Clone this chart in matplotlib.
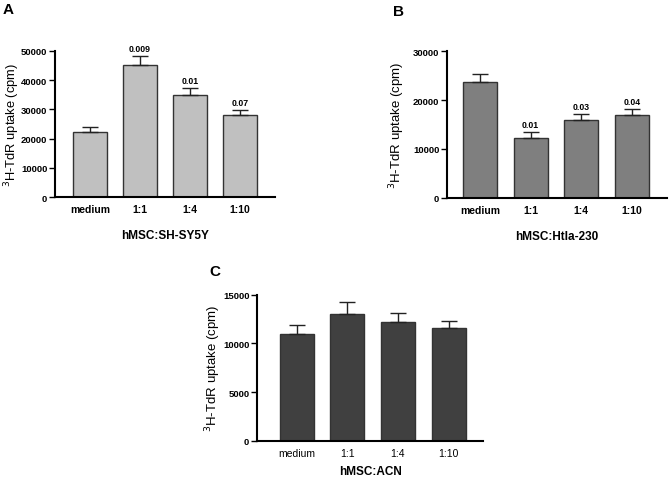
import matplotlib
matplotlib.use("Agg")
import matplotlib.pyplot as plt
import numpy as np

plt.rcParams['font.family'] = ['Liberation Sans', 'DejaVu Sans']

categories = ["medium", "1:1", "1:4", "1:10"]

a_vals = [22400, 45300, 34950, 28050]
a_err = [1450, 2900, 2300, 1650]
a_p = ["", "0.009", "0.01", "0.07"]

b_vals = [23650, 12150, 15970, 16990]
b_err = [1750, 1230, 1160, 1110]
b_p = ["", "0.01", "0.03", "0.04"]

c_vals = [10990, 13020, 12230, 11550]
c_err = [930, 1200, 890, 750]

fig = plt.figure(figsize=(6.7, 4.85), dpi=100)

def panel(rect, vals, errs, color, yticks, xlim, xlabel, letter, letter_xy,
          ylabel_x, ylabel_size, pvals=None, xlabelpad=10, catweight='bold'):
    ax = fig.add_axes(rect)
    x = np.arange(len(categories))
    ax.bar(x, vals, width=0.67, color=color, edgecolor='#333333', linewidth=1.0, zorder=2)
    ax.errorbar(x, vals, yerr=[np.zeros(len(vals)), errs], fmt='none',
                ecolor='#222222', elinewidth=1.0, capsize=6, capthick=1.0, zorder=3)
    if pvals:
        for xi, v, e, p in zip(x, vals, errs, pvals):
            if p:
                ax.annotate(p, (xi, v + e), xytext=(0, 2.5), textcoords='offset points',
                            ha='center', va='bottom', fontsize=6.3, fontweight='bold')
    ax.set_xlim(*xlim)
    ax.set_ylim(0, yticks[-1])
    ax.set_yticks(yticks)
    ax.set_yticklabels([str(t) for t in yticks], fontsize=6.8, fontweight='bold')
    ax.set_xticks(x)
    ax.set_xticklabels(categories, fontsize=7.5, fontweight=catweight)
    ax.tick_params(axis='x', length=0, pad=5)
    ax.tick_params(axis='y', length=4, width=1.0, pad=1.5)
    for s in ['top', 'right']:
        ax.spines[s].set_visible(False)
    for s in ['left', 'bottom']:
        ax.spines[s].set_linewidth(1.5)
        ax.spines[s].set_color('black')
    ax.set_ylabel("$^{3}$H-TdR uptake (cpm)", fontsize=ylabel_size)
    ax.yaxis.set_label_coords(ylabel_x, 0.5)
    ax.set_xlabel(xlabel, fontsize=8.5, fontweight='bold', labelpad=xlabelpad)
    fig.text(letter_xy[0] / 670, 1 - letter_xy[1] / 485, letter, fontsize=11,
             fontweight='bold', ha='center', va='center')
    return ax

panel([55 / 670, 1 - 198 / 485, 220 / 670, 146 / 485], a_vals, a_err, '#c0c0c0',
      [0, 10000, 20000, 30000, 40000, 50000], (-0.7, 3.7), "hMSC:SH-SY5Y",
      "A", (8, 10), ylabel_x=(22 - 55) / 220, ylabel_size=9.3, pvals=a_p, xlabelpad=11)

panel([447 / 670, 1 - 198.6 / 485, 220 / 670, 146.3 / 485], b_vals, b_err, '#7f7f7f',
      [0, 10000, 20000, 30000], (-0.65, 3.69), "hMSC:Htla-230",
      "B", (398, 12), ylabel_x=(407 - 447) / 220, ylabel_size=9.5, pvals=b_p, xlabelpad=11)

panel([257 / 670, 1 - 441.7 / 485, 226 / 670, 146 / 485], c_vals, c_err, '#404040',
      [0, 5000, 10000, 15000], (-0.78, 3.68), "hMSC:ACN",
      "C", (215, 272), ylabel_x=(223 - 257) / 226, ylabel_size=9.5, xlabelpad=5,
      catweight='normal')

fig.savefig("out.png", dpi=100)
